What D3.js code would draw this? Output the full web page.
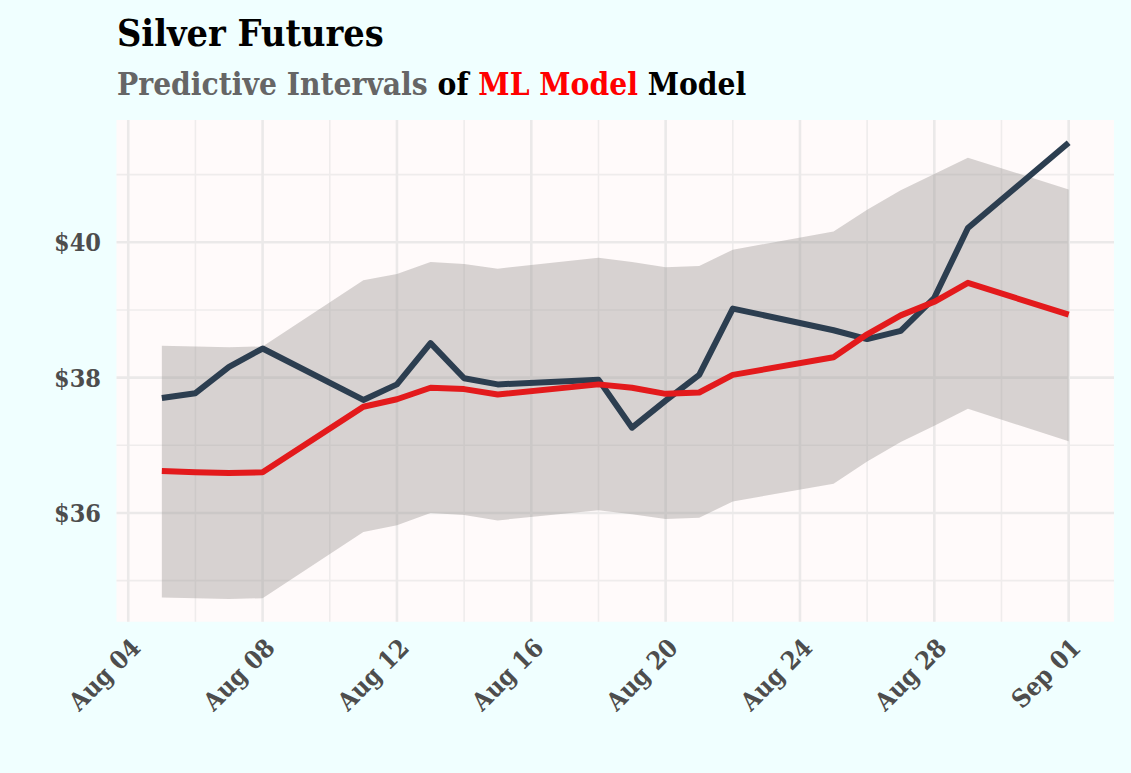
<!DOCTYPE html>
<html>
<head>
<meta charset="utf-8">
<script src="https://cdn.jsdelivr.net/npm/d3@7"></script>
<style>
  html, body { margin: 0; padding: 0; background: #f0ffff; }
  svg { display: block; }
  .slab { font-family: "Roboto Slab", "DejaVu Serif Condensed", "DejaVu Serif", serif; }
</style>
</head>
<body>
<svg id="chart" width="1131" height="773"></svg>
<script>
// trading days shown in the chart
const dates = ['2025-08-05', '2025-08-06', '2025-08-07', '2025-08-08',
  '2025-08-11', '2025-08-12', '2025-08-13', '2025-08-14', '2025-08-15',
  '2025-08-18', '2025-08-19', '2025-08-20', '2025-08-21', '2025-08-22',
  '2025-08-25', '2025-08-26', '2025-08-27', '2025-08-28', '2025-08-29',
  '2025-09-01'];

const actual = [37.70, 37.77, 38.16, 38.43, 37.67, 37.90, 38.51, 37.99, 37.90,
  37.97, 37.26, 37.66, 38.04, 39.02, 38.70, 38.57, 38.69, 39.18, 40.21, 41.47];

const predicted = [36.62, 36.60, 36.59, 36.60, 37.57, 37.68, 37.85, 37.83, 37.75,
  37.90, 37.85, 37.76, 37.78, 38.04, 38.30, 38.64, 38.92, 39.12, 39.40, 38.93];

const upper = [38.47, 38.46, 38.45, 38.46, 39.44, 39.53, 39.71, 39.68, 39.61,
  39.77, 39.71, 39.63, 39.65, 39.89, 40.16, 40.48, 40.77, 41.01, 41.25, 40.78];

const lower = [34.75, 34.74, 34.73, 34.74, 35.72, 35.82, 36.00, 35.97, 35.89,
  36.04, 35.98, 35.91, 35.93, 36.17, 36.43, 36.76, 37.05, 37.29, 37.54, 37.06];

const xTicks = ['2025-08-04', '2025-08-08', '2025-08-12', '2025-08-16',
  '2025-08-20', '2025-08-24', '2025-08-28', '2025-09-01'];
const xMinor = ['2025-08-06', '2025-08-10', '2025-08-14', '2025-08-18',
  '2025-08-22', '2025-08-26', '2025-08-30'];
const yTicks = [36, 38, 40];
const yMinor = [35, 37, 39, 41];

const parse = d3.utcParse('%Y-%m-%d');
const fmt = d3.utcFormat('%b %d');

const panel = { left: 116.5, right: 1114, top: 120, bottom: 621.7 };

let rows = dates.map((d, i) => ({
  date: parse(d),
  actual: actual[i],
  predicted: predicted[i],
  upper: upper[i],
  lower: lower[i]
}));

// ggplot style 5% expansion on both axes
let xExt = d3.extent(rows, d => d.date);
let xPad = (xExt[1] - xExt[0]) * 0.05;
let x = d3.scaleUtc()
  .domain([new Date(+xExt[0] - xPad), new Date(+xExt[1] + xPad)])
  .range([panel.left, panel.right]);

let allY = actual.concat(predicted, upper, lower);
let yLo = d3.min(allY), yHi = d3.max(allY);
let yPad = (yHi - yLo) * 0.05;
let y = d3.scaleLinear()
  .domain([yLo - yPad, yHi + yPad])
  .range([panel.bottom, panel.top]);

let svg = d3.select('#chart');

svg.append('rect')
  .attr('width', 1131).attr('height', 773)
  .attr('fill', '#f0ffff');

svg.append('rect')
  .attr('x', panel.left).attr('y', panel.top)
  .attr('width', panel.right - panel.left)
  .attr('height', panel.bottom - panel.top)
  .attr('fill', '#fffafa');

let grid = svg.append('g');

grid.selectAll('line.xminor')
  .data(xMinor.map(parse))
  .enter().append('line')
  .attr('class', 'xminor')
  .attr('x1', d => x(d)).attr('x2', d => x(d))
  .attr('y1', panel.top).attr('y2', panel.bottom)
  .attr('stroke', '#efecec').attr('stroke-width', 1.6);

grid.selectAll('line.yminor')
  .data(yMinor)
  .enter().append('line')
  .attr('class', 'yminor')
  .attr('x1', panel.left).attr('x2', panel.right)
  .attr('y1', d => y(d)).attr('y2', d => y(d))
  .attr('stroke', '#efecec').attr('stroke-width', 1.6);

grid.selectAll('line.xmajor')
  .data(xTicks.map(parse))
  .enter().append('line')
  .attr('class', 'xmajor')
  .attr('x1', d => x(d)).attr('x2', d => x(d))
  .attr('y1', panel.top).attr('y2', panel.bottom)
  .attr('stroke', '#ebe9e9').attr('stroke-width', 2.6);

grid.selectAll('line.ymajor')
  .data(yTicks)
  .enter().append('line')
  .attr('class', 'ymajor')
  .attr('x1', panel.left).attr('x2', panel.right)
  .attr('y1', d => y(d)).attr('y2', d => y(d))
  .attr('stroke', '#ebe9e9').attr('stroke-width', 2.6);

// predictive interval
let band = d3.area()
  .x(d => x(d.date))
  .y0(d => y(d.lower))
  .y1(d => y(d.upper));

svg.append('path')
  .datum(rows)
  .attr('d', band)
  .attr('fill', '#9a9593')
  .attr('fill-opacity', 0.4);

let lineOf = key => d3.line()
  .x(d => x(d.date))
  .y(d => y(d[key]));

svg.append('path')
  .datum(rows)
  .attr('d', lineOf('actual'))
  .attr('fill', 'none')
  .attr('stroke', '#2c3e50')
  .attr('stroke-width', 6)
  .attr('stroke-linejoin', 'round');

svg.append('path')
  .datum(rows)
  .attr('d', lineOf('predicted'))
  .attr('fill', 'none')
  .attr('stroke', '#e31a1c')
  .attr('stroke-width', 6)
  .attr('stroke-linejoin', 'round');

// axis labels
svg.append('g')
  .selectAll('text')
  .data(yTicks)
  .enter().append('text')
  .attr('class', 'slab')
  .attr('x', 101)
  .attr('y', d => y(d))
  .attr('dy', '0.36em')
  .attr('text-anchor', 'end')
  .attr('font-size', 25)
  .attr('font-weight', 'bold')
  .attr('fill', '#4d4d4d')
  .text(d => '$' + d);

svg.append('g')
  .selectAll('text')
  .data(xTicks.map(parse))
  .enter().append('text')
  .attr('class', 'slab')
  .attr('transform', d => 'translate(' + (x(d) + 1) + ',' + (panel.bottom + 15) + ') rotate(-45)')
  .attr('dy', '0.72em')
  .attr('text-anchor', 'end')
  .attr('font-size', 25)
  .attr('font-weight', 'bold')
  .attr('fill', '#4d4d4d')
  .text(d => fmt(d));

// titles
svg.append('text')
  .attr('class', 'slab')
  .attr('x', 117).attr('y', 46)
  .attr('font-size', 37.5)
  .attr('font-weight', 'bold')
  .attr('fill', '#000')
  .text('Silver Futures');

let sub = svg.append('text')
  .attr('class', 'slab')
  .attr('x', 117).attr('y', 95)
  .attr('font-size', 31.4)
  .attr('font-weight', 'bold');

sub.append('tspan').attr('fill', '#666666').text('Predictive Intervals');
sub.append('tspan').attr('fill', '#000000').text(' of ');
sub.append('tspan').attr('fill', '#ff0000').text('ML Model');
sub.append('tspan').attr('fill', '#000000').text(' Model');
</script>
</body>
</html>
